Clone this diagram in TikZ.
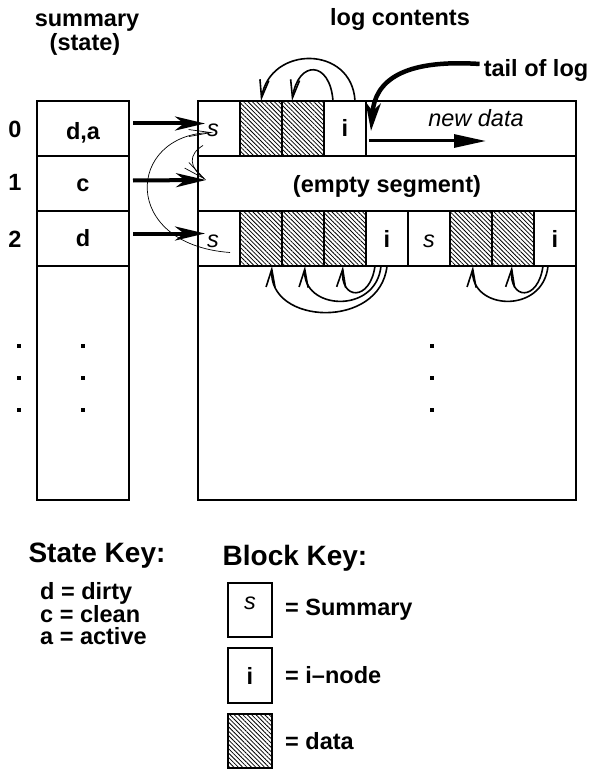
\documentclass[tikz,border=0pt]{standalone}
\usepackage{fontspec}
\setmainfont{Liberation Sans}
\usetikzlibrary{arrows.meta,patterns.meta,positioning}

\tikzset{
  txt/.style={font=\bfseries\fontsize{23.5}{22.5}\selectfont, inner sep=0pt, anchor=base},
  keyhead/.style={font=\bfseries\fontsize{28}{30}\selectfont, inner sep=0pt, anchor=base},
  blk/.style={draw, line width=1.6pt, minimum width=42pt, minimum height=55pt,
    inner sep=0pt, outer sep=0pt, text height=17pt, text depth=0pt,
    font=\fontsize{23.5}{22.5}\selectfont},
  sblk/.style={blk, font=\itshape\fontsize{23.5}{22.5}\selectfont},
  sleft/.style={sblk, text width=24pt, align=left},
  iblk/.style={blk, font=\bfseries\fontsize{23.5}{22.5}\selectfont},
  dblk/.style={blk, pattern={Lines[angle=-45,distance=3.1pt,line width=0.8pt]}},
  cell/.style={draw, line width=1.6pt, minimum width=92pt, minimum height=55pt,
    inner sep=0pt, outer sep=0pt},
  ptr/.style={line width=1.6pt, -{Straight Barb[length=18pt,width=9pt,line width=1.6pt]}},
  thinptr/.style={line width=0.7pt, -{Straight Barb[length=22pt,width=7pt,line width=0.7pt]}},
  bigarrow/.style={line width=4pt, -{Stealth[length=30pt,width=14pt,inset=9pt]}},
}

\begin{document}
\begin{tikzpicture}[x=1pt,y=-1pt]
\useasboundingbox (0,0) rectangle (592,770);

% headers
\node[txt] (hsum) at (87,27) {summary};
\node[txt] (hstate) at (85,51) {(state)};
\node[txt] (hlog) at (400,26) {log contents};

% summary table
\node[cell] (sum0) at (83,128.5) {};
\node[cell, below=0pt of sum0] (sum1) {};
\node[cell, below=0pt of sum1] (sum2) {};
\draw[line width=1.6pt] (sum2.south west) -- (37,500) -- (129,500) -- (sum2.south east);
\node[txt] (v0) at (83,140) {d,a};
\node[txt] (v1) at (83,191) {c};
\node[txt] (v2) at (83,246) {d};
\node[txt] (n0) at (15,138) {0};
\node[txt] (n1) at (15,190) {1};
\node[txt] (n2) at (15,247) {2};

% log
\draw[line width=1.6pt] (198,101) rectangle (576,500);
\draw[line width=1.6pt] (198,156) -- (576,156) (198,211) -- (576,211) (198,266) -- (576,266);
\node[txt] (emp) at (387,192) {(empty segment)};
\coordinate (emptip) at (206,180);

% segment 0
\node[sleft] (s0) at (219,128.5) {s};
\node[dblk, right=0pt of s0] (d01) {};
\node[dblk, right=0pt of d01] (d02) {};
\node[iblk, right=0pt of d02] (i0) {i};

% segment 2
\node[sleft] (r2b0) at (219,238.5) {s};
\foreach \k/\st/\t [remember=\k as \j (initially 0)] in
    {1/dblk/,2/dblk/,3/dblk/,4/iblk/i,5/sblk/s,6/dblk/,7/dblk/,8/iblk/i}
  \node[\st, right=0pt of r2b\j] (r2b\k) {\t};

% dots
\foreach \x in {19,83,432}
  \foreach \y in {346,378,410}
    \fill (\x-2,\y-2) rectangle (\x+2,\y+2);

% summary pointers
\draw[bigarrow] ([xshift=4pt,yshift=5pt]sum0.east) -- ([xshift=-14pt,yshift=5pt]s0.center);
\draw[bigarrow] ([xshift=4pt,yshift=3pt]sum1.east) -- (emptip);
\draw[bigarrow] ([xshift=4pt,yshift=5pt]sum2.east) -- ([xshift=-14pt,yshift=5pt]r2b0.center);

% summary block links
\draw[thinptr] ([xshift=11pt,yshift=-14pt]r2b0.center) .. controls +(-110,-8) and +(-87,2) .. ([xshift=-6pt,yshift=-4pt]s0.center);
\draw[thinptr] ([xshift=-16pt,yshift=-17pt]s0.center) .. controls +(-15,9) and +(-17,-13) .. (emptip);

% i-node pointers, segment 0
\draw[ptr] ([xshift=10pt]i0.north) .. controls +(-3,-56) and +(9,-56) .. (d01.north);
\draw[ptr] ([xshift=-12pt]i0.north) .. controls +(-3,-41) and +(6,-41) .. ([xshift=-11pt]d02.north);

% i-node pointers, segment 2
\draw[ptr] (r2b4.south) .. controls +(-7,64) and +(-4,59) .. ([xshift=11pt]r2b1.south);
\draw[ptr] ([xshift=-6pt]r2b4.south) .. controls +(-5,49) and +(-3,44) .. ([xshift=2pt]r2b2.south);
\draw[ptr] ([xshift=-12pt]r2b4.south) .. controls +(-5,36) and +(-3,34) .. ([xshift=-2pt]r2b3.south);
\draw[ptr] ([xshift=-7pt]r2b8.south) .. controls +(-5,49) and +(-3,44) .. ([xshift=2pt]r2b6.south);
\draw[ptr] ([xshift=-12pt]r2b8.south) .. controls +(-5,36) and +(-3,34) .. ([xshift=-1pt]r2b7.south);

% tail of log
\node[txt] (tail) at (536,77) {tail of log};
\coordinate (tailtip) at (371,131);
\draw[line width=4.5pt, -{Stealth[length=28pt,width=15pt,inset=8pt]}]
  ([xshift=-4pt,yshift=7pt]tail.west) .. controls +(-77,-5) and +(4,-50) .. (tailtip);
\node[txt, font=\itshape\fontsize{23.5}{22.5}\selectfont] (newd) at (476,127) {new data};
\coordinate (nd0) at (369,141);
\coordinate (nd1) at (486,141);
\draw[line width=3pt, -{Triangle[length=32pt,width=13pt]}] (nd0) -- (nd1);

% state key
\node[keyhead] (skey) at (97,562) {State Key:};
\node[txt, align=left, anchor=base west] (sk1) at (40,599) {d = dirty};
\node[txt, align=left, anchor=base west] (sk2) at (40,622) {c = clean};
\node[txt, align=left, anchor=base west] (sk3) at (40,644) {a = active};

% block key
\node[keyhead] (bkey) at (295,565) {Block Key:};
\node[sblk, minimum width=44pt, minimum height=54pt, text height=8pt, text depth=10pt] (ks) at (250,610) {s};
\node[iblk, minimum width=44pt, minimum height=55pt] (ki) at (250,675.5) {i};
\node[dblk, minimum width=44pt, minimum height=54pt] (kd) at (250,741) {};
\node[txt, anchor=west] (ksl) at ([xshift=13pt]ks.east) {= Summary};
\node[txt, anchor=west] (kil) at ([xshift=13pt]ki.east) {= i--node};
\node[txt, anchor=west] (kdl) at ([xshift=13pt]kd.east) {= data};
\end{tikzpicture}
\end{document}
